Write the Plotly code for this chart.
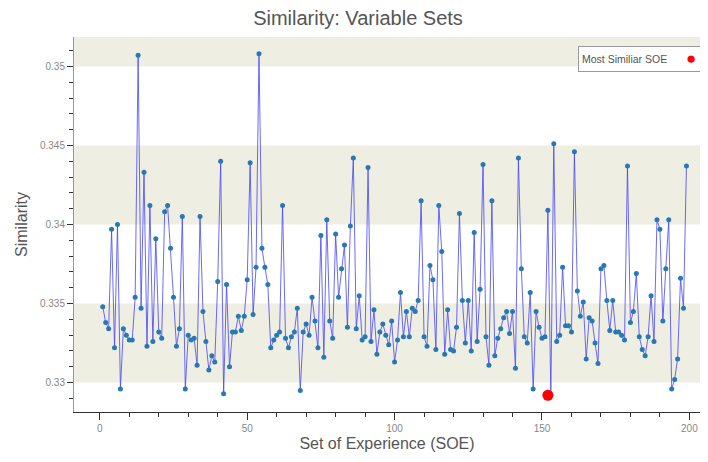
import plotly.graph_objects as go

soe = list(range(1, 200))
similarity = [
    0.3348, 0.3338, 0.3334, 0.3397, 0.3322, 0.3400, 0.3296, 0.3334, 0.3330, 0.3327,
    0.3327, 0.3354, 0.3507, 0.3347, 0.3433, 0.3323, 0.3412, 0.3326, 0.3391, 0.3332,
    0.3328, 0.3408, 0.3412, 0.3385, 0.3354, 0.3323, 0.3334, 0.3405, 0.3296, 0.3330,
    0.3327, 0.3328, 0.3311, 0.3405, 0.3345, 0.3326, 0.3308, 0.3317, 0.3313, 0.3364,
    0.3440, 0.3293, 0.3362, 0.3310, 0.3332, 0.3332, 0.3342, 0.3333, 0.3342, 0.3365,
    0.3439, 0.3343, 0.3373, 0.3508, 0.3385, 0.3373, 0.3362, 0.3322, 0.3327, 0.3330,
    0.3332, 0.3412, 0.3328, 0.3322, 0.3329, 0.3332, 0.3347, 0.3295, 0.3332, 0.3337,
    0.3330, 0.3354, 0.3339, 0.3322, 0.3393, 0.3316, 0.3403, 0.3339, 0.3328, 0.3394,
    0.3354, 0.3372, 0.3387, 0.3335, 0.3399, 0.3442, 0.3334, 0.3355, 0.3327, 0.3329,
    0.3436, 0.3326, 0.3346, 0.3318, 0.3332, 0.3337, 0.3330, 0.3324, 0.3339, 0.3313,
    0.3327, 0.3357, 0.3329, 0.3345, 0.3329, 0.3347, 0.3345, 0.3352, 0.3415, 0.3329,
    0.3323, 0.3374, 0.3365, 0.3321, 0.3412, 0.3383, 0.3318, 0.3346, 0.3321, 0.3320,
    0.3335, 0.3407, 0.3352, 0.3325, 0.3352, 0.3320, 0.3395, 0.3326, 0.3359, 0.3438,
    0.3329, 0.3311, 0.3415, 0.3317, 0.3328, 0.3334, 0.3341, 0.3345, 0.3331, 0.3345,
    0.3309, 0.3442, 0.3372, 0.3329, 0.3325, 0.3357, 0.3296, 0.3345, 0.3335, 0.3328,
    0.3329, 0.3409, 0.3292, 0.3451, 0.3326, 0.3330, 0.3373, 0.3336, 0.3336, 0.3332,
    0.3446, 0.3358, 0.3342, 0.3351, 0.3315, 0.3341, 0.3339, 0.3325, 0.3312, 0.3372,
    0.3374, 0.3352, 0.3333, 0.3352, 0.3332, 0.3332, 0.3330, 0.3327, 0.3437, 0.3338,
    0.3345, 0.3369, 0.3329, 0.3321, 0.3317, 0.3329, 0.3355, 0.3326, 0.3403, 0.3397,
    0.3339, 0.3372, 0.3403, 0.3296, 0.3302, 0.3315, 0.3366, 0.3347, 0.3437,
]
most_similar_soe = [152]
most_similar_value = [0.3292]

y_ticks = [0.33, 0.335, 0.34, 0.345, 0.35]
y_tick_labels = ["0.33", "0.335", "0.34", "0.345", "0.35"]
x_ticks = [0, 50, 100, 150, 200]
band_ranges = [(0.33, 0.335), (0.34, 0.345), (0.35, 0.36)]

FONT = "Liberation Sans, Arial, sans-serif"
BAND = "#EFEEE2"

fig = go.Figure()

fig.add_trace(go.Scatter(
    x=soe, y=similarity, mode="lines+markers",
    line=dict(color="rgba(70,70,245,0.8)", width=1),
    marker=dict(color="#2878b4", size=5),
    showlegend=False, hoverinfo="x+y",
))
fig.add_trace(go.Scatter(
    x=most_similar_soe, y=most_similar_value, mode="markers",
    marker=dict(color="#ff0000", size=11),
    name="Most Similiar SOE", showlegend=False,
))

for lo, hi in band_ranges:
    fig.add_shape(type="rect", xref="paper", yref="y", x0=0, x1=1, y0=lo, y1=hi,
                  fillcolor=BAND, line_width=0, layer="below")

# legend box (text + red dot on the right, as in the reference)
fig.add_annotation(
    xref="paper", yref="paper", x=1.003, y=0.977, xanchor="right", yanchor="top",
    text="Most Similiar SOE", width=116, height=18, align="left", valign="middle",
    showarrow=False, font=dict(family=FONT, size=10.5, color="#555"),
    bgcolor="white", bordercolor="#999", borderwidth=1, borderpad=3,
)
fig.add_annotation(
    xref="paper", yref="paper", x=0.986, y=0.944, xanchor="center", yanchor="middle",
    text="●", showarrow=False, font=dict(family=FONT, size=17, color="#ff0000"),
)

# page has an 8px body margin, so the figure is sized to fit the 708x462 window
fig.update_layout(
    width=700, height=454,
    margin=dict(l=66, r=8, t=29, b=50),
    paper_bgcolor="white", plot_bgcolor="white",
    font=dict(family=FONT, color="#666"),
    title=dict(text="Similarity: Variable Sets", x=0.5, xanchor="center",
               y=0.978, yanchor="middle",
               font=dict(family=FONT, size=20, color="#555")),
)
fig.update_xaxes(
    range=[-8.75, 203.6], tickvals=x_ticks, ticks="outside", ticklen=7,
    tickcolor="#333", showline=True, linecolor="#333", linewidth=1,
    showgrid=False, zeroline=False,
    tickfont=dict(family=FONT, size=10, color="#888"),
    minor=dict(ticks="outside", dtick=10, tick0=0, ticklen=4, tickcolor="#333"),
    title=dict(text="Set of Experience (SOE)", font=dict(family=FONT, size=16, color="#555"),
               standoff=4),
)
fig.update_yaxes(
    range=[0.32814, 0.35186], tickvals=y_ticks, ticktext=y_tick_labels,
    ticks="outside", ticklen=6, tickcolor="#333", showline=True, linecolor="#999",
    linewidth=1, showgrid=False, zeroline=False,
    tickfont=dict(family=FONT, size=10, color="#888"),
    minor=dict(ticks="outside", dtick=0.001, tick0=0.33, ticklen=4, tickcolor="#333"),
    title=dict(text="Similarity", font=dict(family=FONT, size=16, color="#555"), standoff=8),
)

fig.write_html("out.html")
